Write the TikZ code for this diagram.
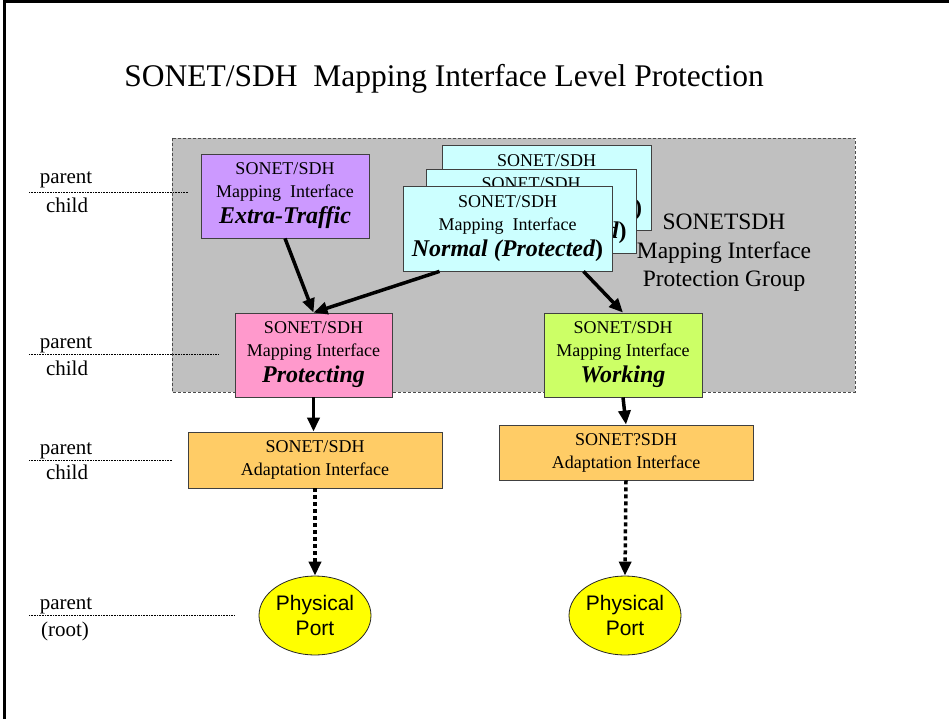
\documentclass[tikz,border=0pt]{standalone}
\usepackage{fontspec}
\setmainfont{Liberation Serif}
\newfontfamily\portfont{Liberation Sans}
\usetikzlibrary{arrows.meta,shapes.geometric}

\definecolor{groupgray}{HTML}{C0C0C0}
\definecolor{xtrapurple}{HTML}{CC99FF}
\definecolor{normcyan}{HTML}{CCFFFF}
\definecolor{protpink}{HTML}{FF99CC}
\definecolor{workgreen}{HTML}{CCFF66}
\definecolor{adaptorange}{HTML}{FFCC66}
\definecolor{portyellow}{HTML}{FFFF00}

\newcommand{\bigbi}[1]{{\fontsize{24}{26}\selectfont\bfseries\itshape #1}}

\begin{document}
\begin{tikzpicture}[x=1pt,y=-1pt,
  box/.style={draw=black!75, line width=0.8pt, inner sep=0pt, align=center,
    font=\fontsize{18}{23}\selectfont},
  mapbox/.style={box, minimum width=#1, minimum height=84pt},
  adaptbox/.style={box, fill=adaptorange, minimum width=254pt, minimum height=55pt},
  port/.style={ellipse, draw=black!85, line width=0.8pt, fill=portyellow, inner sep=0pt,
    minimum width=112pt, minimum height=79pt, align=center,
    font=\portfont\fontsize{21}{25}\selectfont},
  level/.style={anchor=base, font=\fontsize{21}{25}\selectfont},
  guide/.style={line width=0.6pt, dash pattern=on 0.8pt off 0.8pt},
  link/.style={line width=3.5pt, -{Triangle[length=14pt,width=12pt]}},
  dotlink/.style={link, dash pattern=on 4pt off 3pt}]
\useasboundingbox (0,0) rectangle (949,719);
\draw[line width=2.5pt] (4.5,719) -- (4.5,1.5) -- (949,1.5);

\node[anchor=base, font=\fontsize{31.5}{36}\selectfont] (title) at (444,87)
  {SONET/SDH~~Mapping Interface Level Protection};

% protection group
\draw[fill=groupgray, draw=black!70, line width=0.8pt, dash pattern=on 3pt off 2pt]
  (172,138) rectangle (855,392);
\node[align=center, font=\fontsize{23.5}{28.5}\selectfont] (grouplabel) at (724,253)
  {SONETSDH\\Mapping Interface\\Protection Group};

\node[mapbox=168pt, fill=xtrapurple] (xtra) at (285,196)
  {SONET/SDH\\Mapping~~Interface\\[3pt]\bigbi{Extra-Traffic}};
% stacked copies, only their visible parts are printed
\node[mapbox=209pt, minimum height=85pt, fill=normcyan] (normA) at (546.5,187.5)
  {SONET/SDH\\\phantom{Mapping~~Interface}\\[3pt]\bigbi{\phantom{Normal (Protected}\upshape)}};
\node[mapbox=210pt, fill=normcyan] (normB) at (531,211)
  {SONET/SDH\\\phantom{Mapping~~Interface}\\[3pt]\bigbi{\phantom{Normal (Protecte}d\upshape)}};
\node[mapbox=209pt, minimum height=85pt, fill=normcyan] (normC) at (507.5,228.5)
  {SONET/SDH\\Mapping~~Interface\\[3pt]\bigbi{Normal (Protected\upshape)}};
\node[mapbox=157pt, fill=protpink] (protecting) at (313.5,355)
  {SONET/SDH\\Mapping Interface\\[3pt]\bigbi{Protecting}};
\node[mapbox=158pt, fill=workgreen] (working) at (623,355)
  {SONET/SDH\\Mapping Interface\\[3pt]\bigbi{Working}};

\node[adaptbox, minimum height=56pt] (adaptL) at (315,460) {SONET/SDH\\Adaptation Interface};
\node[adaptbox] (adaptR) at (626,452.5) {SONET?SDH\\Adaptation Interface};

\node[port] (portL) at (315,615.5) {Physical\\Port};
\node[port] (portR) at (625,615.5) {Physical\\Port};

\draw[link] (xtra.south) -- (protecting.north);
\draw[link] ([xshift=-68pt]normC.south) -- (protecting.north);
\draw[link] ([xshift=76pt]normC.south) -- (working.north);
\draw[link] (protecting.south) -- (protecting.south |- adaptL.north);
\draw[link] (working.south) -- (adaptR.north);
\draw[dotlink] (adaptL.south) -- (portL.north);
\draw[dotlink] (adaptR.south) -- (portR.north);

% levels
\node[level] (parent1) at (66,184) {parent};
\node[level] (child1) at (67,213) {child};
\draw[guide] (29,192) -- (188,192);
\node[level] (parent2) at (66,348) {parent};
\node[level] (child2) at (67,375) {child};
\draw[guide] (29,354) -- (219,354);
\node[level] (parent3) at (66,454) {parent};
\node[level] (child3) at (67,479) {child};
\draw[guide] (29,460) -- (172,460);
\node[level] (parent4) at (66,609) {parent};
\node[level] (root4) at (65,636) {(root)};
\draw[guide] (29,615) -- (234,615);
\end{tikzpicture}
\end{document}
